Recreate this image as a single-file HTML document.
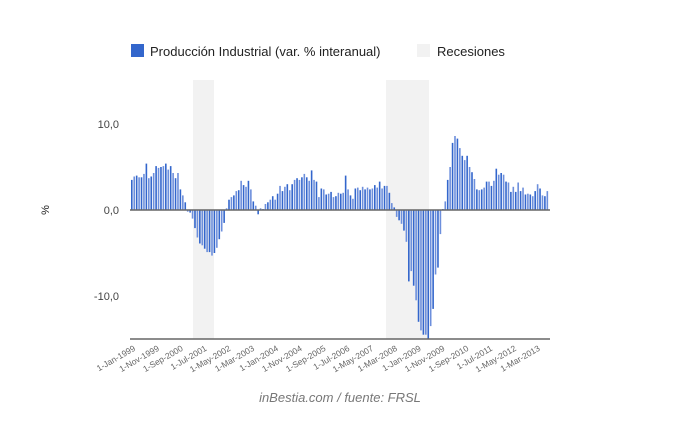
<!DOCTYPE html>
<html><head><meta charset="utf-8"><style>
body{margin:0;background:#fff;width:680px;height:420px;overflow:hidden;font-family:"Liberation Sans",Arial,sans-serif}
</style></head><body>
<svg id="s" width="680" height="420" xmlns="http://www.w3.org/2000/svg" font-family="Liberation Sans, Arial, sans-serif">
<rect x="131" y="44" width="13" height="13" fill="#3366cc"/>
<text x="150" y="56" font-size="13" fill="#222">Producción Industrial (var. % interanual)</text>
<rect x="417" y="44" width="13" height="13" fill="#f2f2f2"/>
<text x="437" y="56" font-size="13" fill="#222">Recesiones</text>
<rect x="193" y="80" width="21" height="259" fill="#f2f2f2"/>
<rect x="386" y="80" width="43" height="259" fill="#f2f2f2"/>
<text x="119" y="128" font-size="11" fill="#444" text-anchor="end">10,0</text>
<text x="119" y="214" font-size="11" fill="#444" text-anchor="end">0,0</text>
<text x="119" y="300" font-size="11" fill="#444" text-anchor="end">-10,0</text>
<text x="0" y="0" font-size="11" fill="#222" text-anchor="middle" transform="translate(49,210) rotate(-90)">%</text>
<g id="bars"></g>
<line x1="130" y1="210" x2="550" y2="210" stroke="#666" stroke-width="1.5"/>
<line x1="130" y1="339" x2="550" y2="339" stroke="#666" stroke-width="1.5"/>
<g id="lab" font-size="8.5" fill="#666"></g>
<text x="340" y="402" font-size="13" font-style="italic" fill="#777" text-anchor="middle">inBestia.com / fuente: FRSL</text>
</svg>
<script>
var d=[3.5,3.9,4,3.8,3.8,4.2,5.4,3.7,3.9,4.3,5.1,4.9,
5,5.1,5.4,4.7,5.1,4.3,3.7,4.3,2.4,1.7,0.9,-0.2,
-0.3,-1,-2.1,-3.2,-3.9,-4.1,-4.5,-4.9,-4.9,-5.3,-5,-4.4,
-3.4,-2.5,-1.5,0.2,1.2,1.5,1.7,2.2,2.3,3.4,2.9,2.7,
3.4,2.4,1,0.5,-0.5,0.2,0.1,0.7,0.9,1.2,1.6,1.2,
1.9,2.8,2.2,2.7,3,2.3,3,3.5,3.7,3.5,3.8,4.2,
3.8,3.4,4.6,3.5,3.3,1.5,2.5,2.4,1.8,1.9,2.1,1.5,
1.6,2,1.9,2,4,2.4,1.7,1.3,2.5,2.6,2.3,2.7,
2.4,2.6,2.4,2.5,2.9,2.6,3.3,2.5,2.8,2.8,2,0.8,
0.3,-0.8,-1.2,-1.6,-2.4,-3.7,-8.3,-7.1,-8.8,-10.5,-13,-14,
-14.5,-14.5,-15,-13.5,-11.5,-7.5,-6.7,-2.8,0.1,1,3.5,5,
7.8,8.6,8.3,7.2,6.3,5.8,6.3,5,4.4,3.6,2.4,2.3,
2.4,2.6,3.3,3.3,2.8,3.4,4.8,4.1,4.3,4.1,3.3,3.2,
2.1,2.7,2.1,3.2,2.2,2.6,1.8,1.9,1.8,1.6,2.2,3,
2.5,1.7,1.6,2.2];
var g=document.getElementById('bars'),w=2.43,h='';
d.forEach(function(v,i){var x=131+i*w,y=v>0?210-v*8.6:210,hh=Math.abs(v)*8.6;
h+='<rect x="'+x.toFixed(2)+'" y="'+y.toFixed(1)+'" width="1.6" height="'+hh.toFixed(1)+'" fill="'+(i%2?'#6d8fdc':'#3366cc')+'"/>';});
g.innerHTML=h;
var L=['1-Jan-1999','1-Nov-1999','1-Sep-2000','1-Jul-2001','1-May-2002','1-Mar-2003','1-Jan-2004','1-Nov-2004','1-Sep-2005','1-Jul-2006','1-May-2007','1-Mar-2008','1-Jan-2009','1-Nov-2009','1-Sep-2010','1-Jul-2011','1-May-2012','1-Mar-2013'],s='';
L.forEach(function(t,i){var x=136+i*10*2.38;s+='<text text-anchor="end" transform="translate('+x.toFixed(1)+',350) rotate(-30)">'+t+'</text>';});
document.getElementById('lab').innerHTML=s;
</script>
</body></html>
